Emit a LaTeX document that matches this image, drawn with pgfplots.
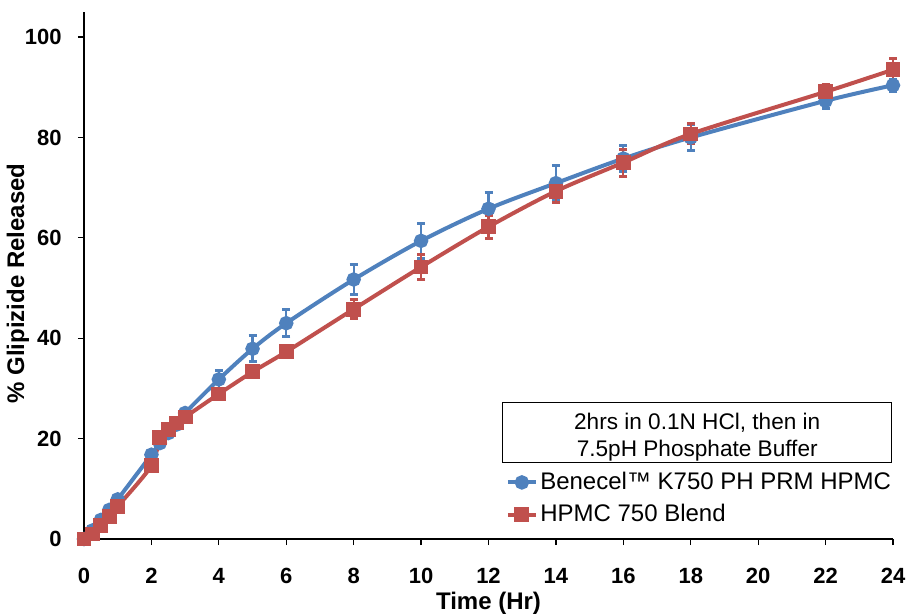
\documentclass[border=0pt]{standalone}
\usepackage{fontspec}
\setmainfont{Liberation Sans}
\usepackage{pgfplots}
\pgfplotsset{compat=1.18}

\definecolor{xlblue}{HTML}{4F81BD}
\definecolor{xlred}{HTML}{C0504D}

\begin{document}
\begin{tikzpicture}
\useasboundingbox (-42pt,-38pt) rectangle (412.5pt,269.5pt);
\begin{axis}[
  scale only axis,
  width=404.5pt, height=263.5pt,
  xmin=0, xmax=24, ymin=0, ymax=105,
  xtick={0,2,...,24}, ytick={0,20,...,100},
  axis x line*=bottom, axis y line*=left,
  axis line style={line width=0.75pt, black, -},
  tick align=outside, tick style={black, line width=0.6pt},
  major tick length=3pt,
  /pgf/number format/assume math mode=true,
  tick label style={font=\fontsize{11}{12}\selectfont\bfseries},
  xticklabel style={inner sep=0pt, anchor=north, yshift=-11.5pt},
  yticklabel style={inner sep=0pt, anchor=east, xshift=-8pt},
  xlabel={Time (Hr)}, ylabel={\% Glipizide Released},
  label style={font=\fontsize{12}{13}\selectfont\bfseries},
  xlabel style={at={(axis description cs:0.5,0)}, anchor=center, yshift=-32pt},
  ylabel style={at={(axis description cs:0,0.485)}, anchor=center, yshift=33pt},
  clip=false,
  legend cell align=left,
  legend style={at={(rel axis cs:0.521,0.132)}, anchor=north west, draw=none, fill=none,
    inner sep=0pt, row sep=3.5pt, font=\fontsize{12}{13}\selectfont,
    nodes={inner sep=1.2pt}},
  legend image code/.code={\draw[#1, mark repeat=2, mark phase=2] plot coordinates {(0pt,0pt) (7pt,0pt) (14pt,0pt)};},
]
\addplot[xlblue, line width=2pt, smooth, mark=*, mark size=2.6pt,
  error bars/.cd, y dir=both, y explicit,
  error bar style={line width=1.1pt, xlblue},
  error mark options={rotate=90, mark size=2pt, line width=1.5pt, xlblue}]
  table[x=x, y=y, y error=e] {
x     y     e
0     0     0
0.25  1.7   0.3
0.5   3.8   0.4
0.75  5.8   0.5
1     7.9   0.5
2     16.8  0.8
2.25  19.1  0.8
2.5   21.1  0.8
2.75  22.8  0.8
3     25.1  0.8
4     31.8  1.8
5     37.9  2.6
6     43.0  2.7
8     51.7  2.9
10    59.4  3.5
12    65.8  3.3
14    70.9  3.5
16    75.8  2.6
18    80.0  2.5
22    87.3  1.5
24    90.4  1.2
};
\addlegendentry{Benecel™ K750 PH PRM HPMC}
\addplot[xlred, line width=2pt, smooth, mark=square*, mark size=2.7pt,
  error bars/.cd, y dir=both, y explicit,
  error bar style={line width=1.1pt, xlred},
  error mark options={rotate=90, mark size=2pt, line width=1.5pt, xlred}]
  table[x=x, y=y, y error=e] {
x     y     e
0     0     0
0.25  1.0   0.2
0.5   2.7   0.3
0.75  4.5   0.4
1     6.5   0.4
2     14.6  1.0
2.25  20.3  0.6
2.5   21.8  0.5
2.75  23.1  0.5
3     24.3  0.5
4     28.9  0.6
5     33.3  0.6
6     37.3  1.0
8     45.8  1.9
10    54.2  2.4
12    62.2  2.3
14    69.3  2.3
16    75.0  2.7
18    80.7  2.0
22    89.1  1.5
24    93.5  2.3
};
\addlegendentry{HPMC 750 Blend}
\node[draw, line width=0.5pt, minimum width=194.5pt, minimum height=30pt, inner sep=0pt]
  at (rel axis cs:0.758,0.203) {};
\node[align=center, inner sep=0pt, yshift=-2.5pt, font=\fontsize{11.3}{13.5}\selectfont]
  at (rel axis cs:0.758,0.203) {2hrs in 0.1N HCl, then in\\7.5pH Phosphate Buffer};
\end{axis}
\end{tikzpicture}
\end{document}
